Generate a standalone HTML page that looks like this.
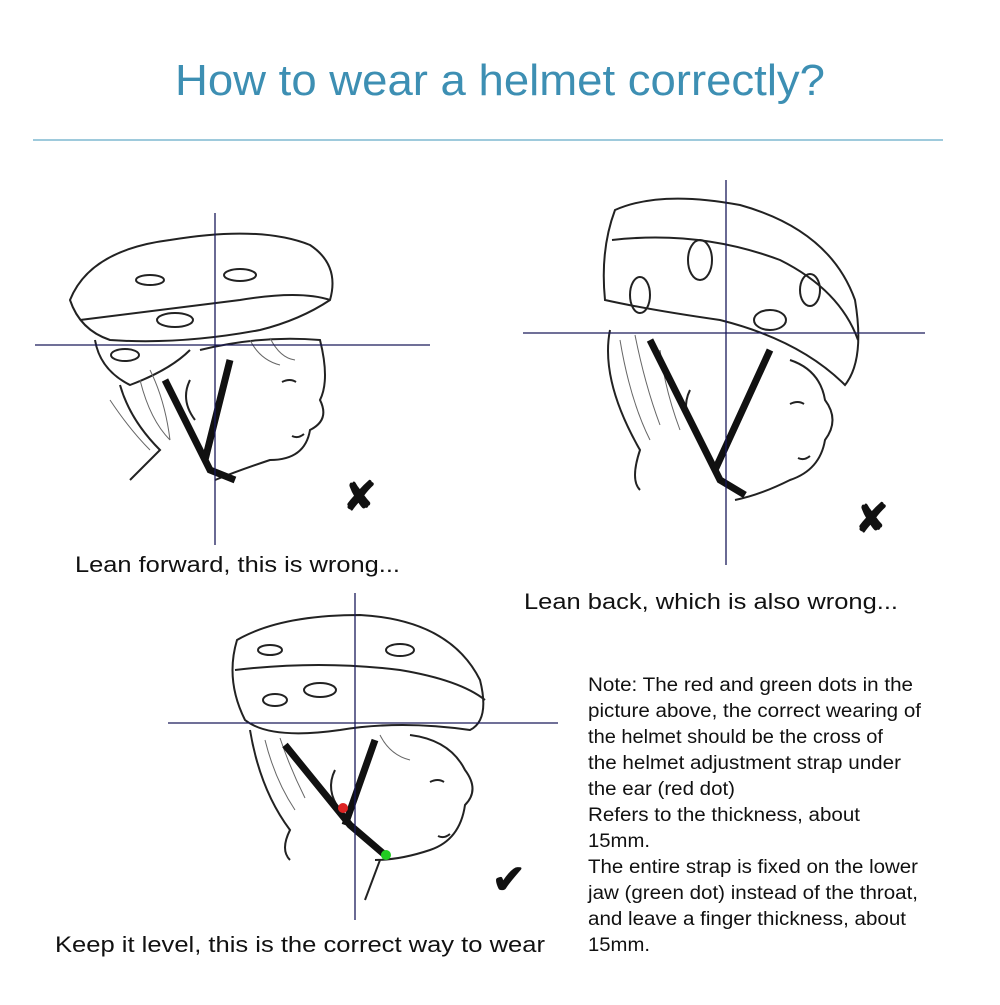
<!DOCTYPE html>
<html><head><meta charset="utf-8"><style>
body{margin:0;background:#fff;width:1000px;height:1000px;overflow:hidden;font-family:"Liberation Sans",sans-serif}
</style></head><body>
<svg width="1000" height="1000" viewBox="0 0 1000 1000" xmlns="http://www.w3.org/2000/svg" font-family="Liberation Sans, sans-serif">
<text x="175" y="95" font-size="44" fill="#3d8fb3" textLength="650" lengthAdjust="spacingAndGlyphs">How to wear a helmet correctly?</text>
<line x1="33" y1="140" x2="943" y2="140" stroke="#7fb8d0" stroke-width="1.5"/>

<!-- Figure 1 -->
<g fill="none" stroke="#222" stroke-width="2">
 <path d="M70 300 Q90 250 170 240 Q260 225 310 245 Q340 265 330 300 Q300 320 260 330 Q180 345 110 340 Q80 330 70 300Z"/>
 <path d="M80 320 Q160 310 240 300 Q300 290 330 300"/>
 <path d="M95 340 Q100 370 130 385 Q170 370 190 350"/>
 <ellipse cx="175" cy="320" rx="18" ry="7"/><ellipse cx="125" cy="355" rx="14" ry="6"/><ellipse cx="240" cy="275" rx="16" ry="6"/><ellipse cx="150" cy="280" rx="14" ry="5"/>
 <path d="M200 350 Q260 335 320 340 Q330 380 320 400 Q330 420 310 430 Q305 460 270 460 Q240 470 215 480"/>
 <path d="M190 380 Q180 400 195 420"/>
 <path d="M120 385 Q130 420 160 450 Q140 470 130 480"/>
 <path d="M282 382 q8 -4 14 0"/><path d="M292 436 q6 3 12 -2"/>
</g>
<g fill="none" stroke="#666" stroke-width="1"><path d="M140 380 q10 40 30 60 M150 370 q15 30 20 70 M250 340 q10 20 30 25 M270 338 q10 20 25 22 M110 400 q20 30 40 50"/></g>
<path d="M165 380 L210 470 L235 480 M230 360 L205 460" stroke="#111" stroke-width="7" fill="none"/>
<line x1="35" y1="345" x2="430" y2="345" stroke="#1a1a5a" stroke-width="1.3"/>
<line x1="215" y1="213" x2="215" y2="545" stroke="#1a1a5a" stroke-width="1.3"/>
<text x="343" y="510" font-size="40" font-weight="bold" fill="#111">✘</text>
<text x="75" y="572" font-size="22" fill="#111" textLength="325" lengthAdjust="spacingAndGlyphs">Lean forward, this is wrong...</text>

<!-- Figure 2 -->
<g fill="none" stroke="#222" stroke-width="2">
 <path d="M615 210 Q660 190 740 205 Q830 230 855 300 Q865 360 845 385 Q800 340 720 320 Q650 310 605 300 Q600 250 615 210Z"/>
 <path d="M612 240 Q700 230 780 260 Q840 290 858 340"/>
 <ellipse cx="640" cy="295" rx="10" ry="18"/><ellipse cx="700" cy="260" rx="12" ry="20"/><ellipse cx="770" cy="320" rx="16" ry="10"/><ellipse cx="810" cy="290" rx="10" ry="16"/>
 <path d="M790 360 Q820 370 825 400 Q840 420 825 440 Q820 470 790 480 Q760 495 735 500"/>
 <path d="M610 330 Q600 380 640 450 Q630 480 640 490"/>
 <path d="M690 390 Q680 410 695 430"/>
 <path d="M790 404 q8 -4 14 0"/><path d="M798 458 q6 3 12 -2"/>
</g>
<g fill="none" stroke="#666" stroke-width="1"><path d="M620 340 q10 60 30 100 M635 335 q10 50 25 90 M660 350 q5 40 20 80"/></g>
<path d="M650 340 L720 480 L745 495 M770 350 L715 470" stroke="#111" stroke-width="7" fill="none"/>
<line x1="523" y1="333" x2="925" y2="333" stroke="#1a1a5a" stroke-width="1.3"/>
<line x1="726" y1="180" x2="726" y2="565" stroke="#1a1a5a" stroke-width="1.3"/>
<text x="855" y="532" font-size="40" font-weight="bold" fill="#111">✘</text>
<text x="524" y="609" font-size="22" fill="#111" textLength="374" lengthAdjust="spacingAndGlyphs">Lean back, which is also wrong...</text>

<!-- Figure 3 -->
<g fill="none" stroke="#222" stroke-width="2">
 <path d="M237 640 Q280 615 360 615 Q450 620 480 680 Q490 720 470 730 Q400 720 340 730 Q270 740 245 720 Q225 680 237 640Z"/>
 <path d="M235 670 Q320 660 400 670 Q460 680 485 700"/>
 <ellipse cx="320" cy="690" rx="16" ry="7"/><ellipse cx="275" cy="700" rx="12" ry="6"/><ellipse cx="400" cy="650" rx="14" ry="6"/><ellipse cx="270" cy="650" rx="12" ry="5"/>
 <path d="M410 735 Q450 740 465 770 Q480 790 465 805 Q460 840 430 850 Q400 860 375 860"/>
 <path d="M250 730 Q260 790 290 830 Q280 850 290 860"/>
 <path d="M335 770 Q325 790 340 810"/>
 <path d="M430 782 q8 -4 14 0"/><path d="M438 836 q6 3 12 -2"/>
 <path d="M380 860 L365 900"/>
</g>
<g fill="none" stroke="#666" stroke-width="1"><path d="M265 740 q10 40 30 70 M280 738 q10 30 25 60 M380 735 q10 20 30 25"/></g>
<path d="M285 745 L350 825 L385 855 M375 740 L345 825" stroke="#111" stroke-width="7" fill="none"/>
<circle cx="343" cy="808" r="5" fill="#d22"/><circle cx="386" cy="855" r="5" fill="#2c2"/>
<line x1="168" y1="723" x2="558" y2="723" stroke="#1a1a5a" stroke-width="1.3"/>
<line x1="355" y1="593" x2="355" y2="920" stroke="#1a1a5a" stroke-width="1.3"/>
<text x="492" y="893" font-size="40" font-weight="bold" fill="#111">✔</text>
<text x="55" y="952" font-size="22" fill="#111" textLength="490" lengthAdjust="spacingAndGlyphs">Keep it level, this is the correct way to wear</text>

<g font-size="19" fill="#111">
<text x="588" y="691" textLength="325" lengthAdjust="spacingAndGlyphs">Note: The red and green dots in the</text>
<text x="588" y="717" textLength="333" lengthAdjust="spacingAndGlyphs">picture above, the correct wearing of</text>
<text x="588" y="743" textLength="295" lengthAdjust="spacingAndGlyphs">the helmet should be the cross of</text>
<text x="588" y="769" textLength="313" lengthAdjust="spacingAndGlyphs">the helmet adjustment strap under</text>
<text x="588" y="795" textLength="147" lengthAdjust="spacingAndGlyphs">the ear (red dot)</text>
<text x="588" y="821" textLength="272" lengthAdjust="spacingAndGlyphs">Refers to the thickness, about</text>
<text x="588" y="847" textLength="62" lengthAdjust="spacingAndGlyphs">15mm.</text>
<text x="588" y="873" textLength="330" lengthAdjust="spacingAndGlyphs">The entire strap is fixed on the lower</text>
<text x="588" y="899" textLength="330" lengthAdjust="spacingAndGlyphs">jaw (green dot) instead of the throat,</text>
<text x="588" y="925" textLength="318" lengthAdjust="spacingAndGlyphs">and leave a finger thickness, about</text>
<text x="588" y="951" textLength="62" lengthAdjust="spacingAndGlyphs">15mm.</text>
</g>
</svg>
</body></html>
